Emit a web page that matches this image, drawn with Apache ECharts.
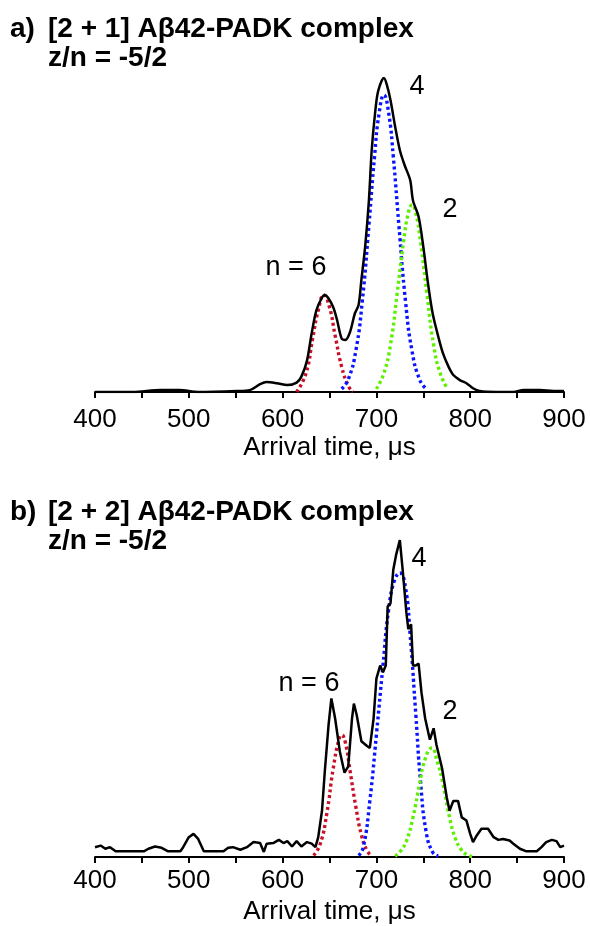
<!DOCTYPE html>
<html><head><meta charset="utf-8">
<script src="https://cdn.jsdelivr.net/npm/echarts@6/dist/echarts.min.js"></script>
<style>html,body{margin:0;padding:0;background:#fff}#c{width:590px;height:926px}</style>
</head><body><div id="c"></div>
<script>
// ---- Data (arrival time in µs, intensity normalised to the tallest peak = 100) ----
const xTicks = [400, 500, 600, 700, 800, 900];

// Panel a: [2 + 1] complex
const aSignal = [[400,0],[440,0],[470,0.6],[490,0.6],[510,0],[551,0.3],[565,0.6],[576,2.5],[583,3.2],[594,2.8],[605,2.2],[615,3],[620,4.9],[626,10],[631,18.7],[636,26],[642,30.1],[645,30.9],[649,29.8],[654,27],[658,23],[663,17],[667,16.6],[672,19.2],[677,25],[681,27.7],[684,35.7],[688,46.3],[692,61],[695,77],[699,90],[702,96],[708,100],[711,98],[715,93],[720,84.5],[725,77],[730,72.3],[736,67.5],[739,61],[745,55.8],[750,46.3],[755,34.6],[760,25],[766,17.6],[771,12.3],[777,8],[782,5.4],[789,3.8],[796,2.8],[803,1.2],[810,0.3],[828,0],[846,0],[857,0.6],[874,0.6],[889,0.3],[900,0.3]];
const aRed   = [[615,0],[625,6],[632,17],[638,26],[644,30.9],[650,27],[656,18],[663,8],[670,2],[675,0]];
const aBlue  = [[663,1],[670,4],[678,13],[685,29],[692,53],[698,75],[703,89],[708,94.6],[713,89],[718,75],[724,53],[731,29],[738,13],[746,4],[753,1]];
const aGreen = [[700,1],[708,6],[715,15],[722,31],[729,48],[734,57],[738,59.6],[742,57],[747,48],[754,31],[761,15],[768,6],[776,1]];

// Panel b: [2 + 2] complex
const bSignal = [[400,3.1],[406,3.6],[411,2.6],[416,3.1],[422,1.8],[438,1.8],[452,1.8],[457,2.6],[464,3.3],[471,2.9],[478,1.8],[491,1.8],[494,3.1],[500,6.25],[505,7.3],[510,5.7],[516,1.8],[526,1.8],[537,1.8],[542,2.9],[547,3.1],[555,2.3],[562,3.1],[569,4.7],[576,4.4],[580,1.6],[583,4.2],[590,4.4],[596,5.4],[601,4.4],[605,5],[610,3.3],[615,5],[620,3.3],[626,4.7],[631,4.2],[635,3.1],[638,6.25],[642,14.6],[645,27],[649,41.7],[652,50],[656,43.7],[661,33.3],[666,26.6],[670,28.6],[674,43.7],[676,48.4],[679,44.8],[684,36.5],[690,35],[693,34.4],[697,43.7],[700,56.25],[704,60.4],[707,58.3],[710,60.4],[712,79],[715,80],[718,90.6],[721,95.3],[725,100],[728,90.6],[732,77],[734,71.9],[737,73.4],[739,60.4],[742,60.4],[745,61],[748,52],[752,43.7],[757,37],[761,40.6],[764,35.4],[770,28],[775,18.75],[778,14.6],[782,17.7],[787,17.7],[791,12.5],[796,11.5],[800,7.3],[803,4.7],[807,6.8],[812,8.9],[819,8.9],[825,6.25],[830,5.4],[835,5.7],[842,5.2],[846,4.2],[853,2.6],[860,1.8],[871,1.8],[876,3.1],[881,4.7],[887,5.4],[892,5],[896,3.1],[900,3.6]];
const bRed   = [[633,0.5],[640,4],[647,13.5],[654,28],[660,37],[663,38.5],[667,36],[672,27],[678,16],[684,7],[690,2],[695,0.3]];
const bBlue  = [[681,0.5],[686,3],[693,17.7],[700,38.5],[707,60.4],[713,78],[719,87],[725,89.6],[731,85],[736,70],[742,45],[747,24],[753,8],[760,1.5],[766,0.3]];
const bGreen = [[720,0.3],[726,2],[732,5],[739,12.5],[746,23],[752,31],[759,34.4],[765,30],[771,23],[778,12.5],[784,6],[790,2.5],[796,0.8],[802,0.2]];

const titles = {
  a: ['a)', '[2 + 1] A\u03b242-PADK complex', 'z/n = -5/2'],
  b: ['b)', '[2 + 2] A\u03b242-PADK complex', 'z/n = -5/2']
};
const peakLabels = ['n = 6', '4', '2'];

// ---- Chart ----
const FONT = '"Liberation Sans", Arial, sans-serif';
const chart = echarts.init(document.getElementById('c'), null, {renderer: 'canvas'});

function xAxisDef(gridIndex, labelMargin, nameGap) {
  return {
    type: 'value', gridIndex, min: 400, max: 900, interval: 50,
    axisLine: {show: true, onZero: false, lineStyle: {color: '#000', width: 2}},
    axisTick: {show: true, inside: false, length: 6, lineStyle: {color: '#000', width: 2}},
    axisLabel: {
      margin: labelMargin, color: '#000', fontSize: 26, fontFamily: FONT,
      formatter: v => (xTicks.indexOf(v) >= 0 ? String(v) : ''),
      showMinLabel: true, showMaxLabel: true
    },
    splitLine: {show: false},
    name: 'Arrival time, \u03bcs', nameLocation: 'middle', nameGap,
    nameTextStyle: {color: '#000', fontSize: 26, fontFamily: FONT}
  };
}
function yAxisDef(gridIndex) {
  return {type: 'value', gridIndex, min: 0, max: 100, show: false};
}
function signal(data, idx, smooth) {
  return {type: 'line', xAxisIndex: idx, yAxisIndex: idx, data, showSymbol: false, symbol: 'none',
    smooth, lineStyle: {color: '#000', width: 2.5}, z: 5, silent: true};
}
function fit(data, idx, color) {
  return {type: 'line', xAxisIndex: idx, yAxisIndex: idx, data, showSymbol: false, symbol: 'none',
    smooth: 0.5, lineStyle: {color, width: 3.4, type: [3, 3]}, z: 4, silent: true};
}
function txt(x, y, text, size, bold) {
  return {type: 'text', x, y, style: {text, fill: '#000', font: (bold ? 'bold ' : '') + size + 'px ' + FONT,
    textAlign: 'left', textVerticalAlign: 'middle'}};
}
function ctxt(x, y, text, size) {
  return {type: 'text', x, y, style: {text, fill: '#000', font: size + 'px ' + FONT,
    textAlign: 'center', textVerticalAlign: 'middle'}};
}

const RED = '#c81028', BLUE = '#0a14ff', GREEN = '#5cf000';

chart.setOption({
  animation: false,
  backgroundColor: '#fff',
  grid: [
    {left: 95, right: 26, top: 78, height: 314},
    {left: 95, right: 26, top: 540, height: 320}
  ],
  xAxis: [xAxisDef(0, 15, 43), xAxisDef(1, 11, 42)],
  yAxis: [yAxisDef(0), yAxisDef(1)],
  series: [
    fit(aRed, 0, RED), fit(aBlue, 0, BLUE), fit(aGreen, 0, GREEN), signal(aSignal, 0, 0.3),
    fit(bRed, 1, RED), fit(bBlue, 1, BLUE), fit(bGreen, 1, GREEN), signal(bSignal, 1, false)
  ],
  graphic: [
    txt(10, 29, titles.a[0], 28, true), txt(48, 29, titles.a[1], 28, true), txt(48, 58, titles.a[2], 28, true),
    txt(10, 512, titles.b[0], 28, true), txt(48, 512, titles.b[1], 28, true), txt(48, 541, titles.b[2], 28, true),
    ctxt(296, 268, peakLabels[0], 27), ctxt(417, 87, peakLabels[1], 27), ctxt(450, 210, peakLabels[2], 27),
    ctxt(309, 684, peakLabels[0], 27), ctxt(419, 559, peakLabels[1], 27), ctxt(450, 712, peakLabels[2], 27)
  ]
});
</script></body></html>
